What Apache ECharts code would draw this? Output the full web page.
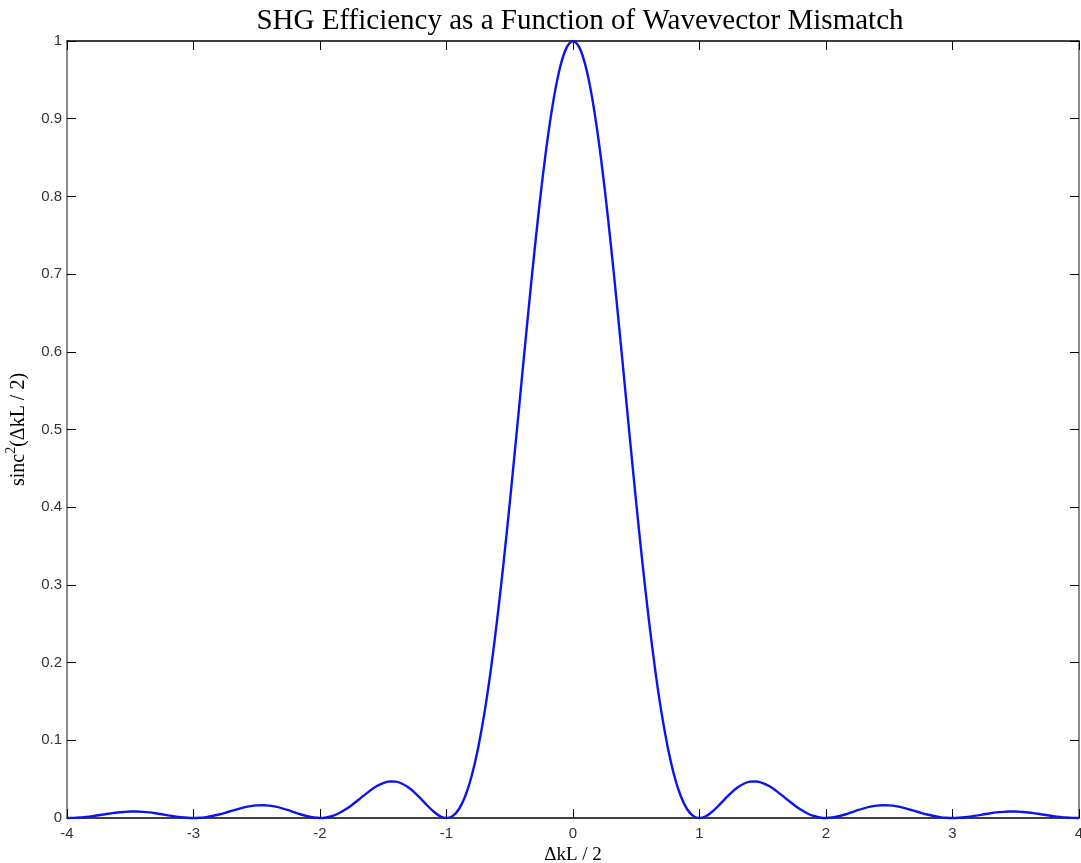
<!DOCTYPE html>
<html>
<head>
<meta charset="utf-8">
<script src="https://cdn.jsdelivr.net/npm/echarts@6/dist/echarts.min.js"></script>
<style>
html,body{margin:0;padding:0;background:#fff;}
#chart{width:1081px;height:863px;}
</style>
</head>
<body>
<div id="chart"></div>
<script>
const titleText = "SHG Efficiency as a Function of Wavevector Mismatch";
const xName = "ΔkL / 2";
const yNameMain = "sinc";
const yNameSup = "2";
const yNameRest = "(ΔkL / 2)";
const xTicks = [-4, -3, -2, -1, 0, 1, 2, 3, 4];
const yTicks = [0, 0.1, 0.2, 0.3, 0.4, 0.5, 0.6, 0.7, 0.8, 0.9, 1];
// curve samples, step 0.05 from -4 to 4
const xValues = [
  -4.00,-3.95,-3.90,-3.85,-3.80,-3.75,-3.70,-3.65,-3.60,-3.55,
  -3.50,-3.45,-3.40,-3.35,-3.30,-3.25,-3.20,-3.15,-3.10,-3.05,
  -3.00,-2.95,-2.90,-2.85,-2.80,-2.75,-2.70,-2.65,-2.60,-2.55,
  -2.50,-2.45,-2.40,-2.35,-2.30,-2.25,-2.20,-2.15,-2.10,-2.05,
  -2.00,-1.95,-1.90,-1.85,-1.80,-1.75,-1.70,-1.65,-1.60,-1.55,
  -1.50,-1.45,-1.40,-1.35,-1.30,-1.25,-1.20,-1.15,-1.10,-1.05,
  -1.00,-0.95,-0.90,-0.85,-0.80,-0.75,-0.70,-0.65,-0.60,-0.55,
  -0.50,-0.45,-0.40,-0.35,-0.30,-0.25,-0.20,-0.15,-0.10,-0.05,
  0.00,0.05,0.10,0.15,0.20,0.25,0.30,0.35,0.40,0.45,
  0.50,0.55,0.60,0.65,0.70,0.75,0.80,0.85,0.90,0.95,
  1.00,1.05,1.10,1.15,1.20,1.25,1.30,1.35,1.40,1.45,
  1.50,1.55,1.60,1.65,1.70,1.75,1.80,1.85,1.90,1.95,
  2.00,2.05,2.10,2.15,2.20,2.25,2.30,2.35,2.40,2.45,
  2.50,2.55,2.60,2.65,2.70,2.75,2.80,2.85,2.90,2.95,
  3.00,3.05,3.10,3.15,3.20,3.25,3.30,3.35,3.40,3.45,
  3.50,3.55,3.60,3.65,3.70,3.75,3.80,3.85,3.90,3.95,4.00
];
const yValues = [
  0.0000,0.0002,0.0006,0.0014,0.0024,0.0036,0.0048,0.0060,0.0071,0.0078,
  0.0083,0.0083,0.0079,0.0072,0.0061,0.0048,0.0034,0.0021,0.0010,0.0003,
  0.0000,0.0003,0.0012,0.0026,0.0045,0.0067,0.0091,0.0115,0.0136,0.0152,
  0.0162,0.0165,0.0159,0.0146,0.0125,0.0100,0.0072,0.0045,0.0022,0.0006,
  0.0000,0.0007,0.0027,0.0061,0.0108,0.0165,0.0229,0.0295,0.0358,0.0411,
  0.0450,0.0470,0.0468,0.0441,0.0392,0.0324,0.0243,0.0158,0.0080,0.0022,
  0.0000,0.0027,0.0119,0.0289,0.0547,0.0901,0.1353,0.1904,0.2546,0.3267,
  0.4053,0.4881,0.5728,0.6566,0.7368,0.8106,0.8751,0.9281,0.9675,0.9918,
  1.0000,0.9918,0.9675,0.9281,0.8751,0.8106,0.7368,0.6566,0.5728,0.4881,
  0.4053,0.3267,0.2546,0.1904,0.1353,0.0901,0.0547,0.0289,0.0119,0.0027,
  0.0000,0.0022,0.0080,0.0158,0.0243,0.0324,0.0392,0.0441,0.0468,0.0470,
  0.0450,0.0411,0.0358,0.0295,0.0229,0.0165,0.0108,0.0061,0.0027,0.0007,
  0.0000,0.0006,0.0022,0.0045,0.0072,0.0100,0.0125,0.0146,0.0159,0.0165,
  0.0162,0.0152,0.0136,0.0115,0.0091,0.0067,0.0045,0.0026,0.0012,0.0003,
  0.0000,0.0003,0.0010,0.0021,0.0034,0.0048,0.0061,0.0072,0.0079,0.0083,
  0.0083,0.0078,0.0071,0.0060,0.0048,0.0036,0.0024,0.0014,0.0006,0.0002,0.0000
];

const chart = echarts.init(document.getElementById('chart'), null, {renderer:'canvas'});
const labelStyle = {color:'#333', fontSize:15, fontFamily:'"Liberation Sans", Arial, sans-serif'};
const serif = '"Liberation Serif", "Times New Roman", serif';
const tick = {show:true, inside:true, length:9, lineStyle:{color:'#000', width:1}};
chart.setOption({
  animation:false,
  backgroundColor:'#fff',
  title:{
    text:titleText, left:575, top:2, textAlign:'center',
    textStyle:{fontFamily:serif, fontWeight:'normal', fontSize:29, color:'#000'}
  },
  grid:{left:67, right:2, top:41, bottom:45, containLabel:false, outerBoundsMode:'none'},
  xAxis:[{
    type:'value', min:xTicks[0], max:xTicks[xTicks.length-1], interval:1, position:'bottom',
    name:xName, nameLocation:'middle', nameGap:24,
    nameTextStyle:{fontFamily:serif, fontSize:19, color:'#000'},
    axisLine:{show:true, onZero:false, lineStyle:{color:'#000', width:1.5}},
    axisTick:tick, axisLabel:Object.assign({margin:8}, labelStyle),
    splitLine:{show:false}
  },{
    type:'value', min:xTicks[0], max:xTicks[xTicks.length-1], interval:1, position:'top',
    axisLine:{show:true, onZero:false, lineStyle:{color:'#000', width:1.5}},
    axisTick:tick, axisLabel:{show:false}, splitLine:{show:false}
  }],
  yAxis:[{
    type:'value', min:yTicks[0], max:yTicks[yTicks.length-1], interval:0.1, position:'left',
    name:'{s|' + yNameMain + '}{sup|' + yNameSup + '}{s|' + yNameRest + '}',
    nameLocation:'middle', nameGap:34, nameRotate:90,
    nameTextStyle:{
      fontFamily:serif, fontSize:20, color:'#000',
      rich:{
        s:{fontFamily:serif, fontSize:20, color:'#000', lineHeight:27, verticalAlign:'bottom', padding:[0,0,1,0]},
        sup:{fontFamily:serif, fontSize:14, color:'#000', lineHeight:27, verticalAlign:'top', padding:[1,0,0,0]}
      }
    },
    axisLine:{show:true, onZero:false, lineStyle:{color:'#666', width:1.5}},
    axisTick:tick, axisLabel:Object.assign({margin:5}, labelStyle),
    splitLine:{show:false}
  },{
    type:'value', min:yTicks[0], max:yTicks[yTicks.length-1], interval:0.1, position:'right',
    axisLine:{show:true, onZero:false, lineStyle:{color:'#666', width:1.5}},
    axisTick:tick, axisLabel:{show:false}, splitLine:{show:false}
  }],
  series:[{
    type:'line', xAxisIndex:0, yAxisIndex:0,
    data:xValues.map((x,i)=>[x, yValues[i]]),
    smooth:0.3, showSymbol:false, symbol:'none',
    lineStyle:{color:'#0a14f0', width:2.4},
    clip:false
  }]
});
</script>
</body>
</html>
